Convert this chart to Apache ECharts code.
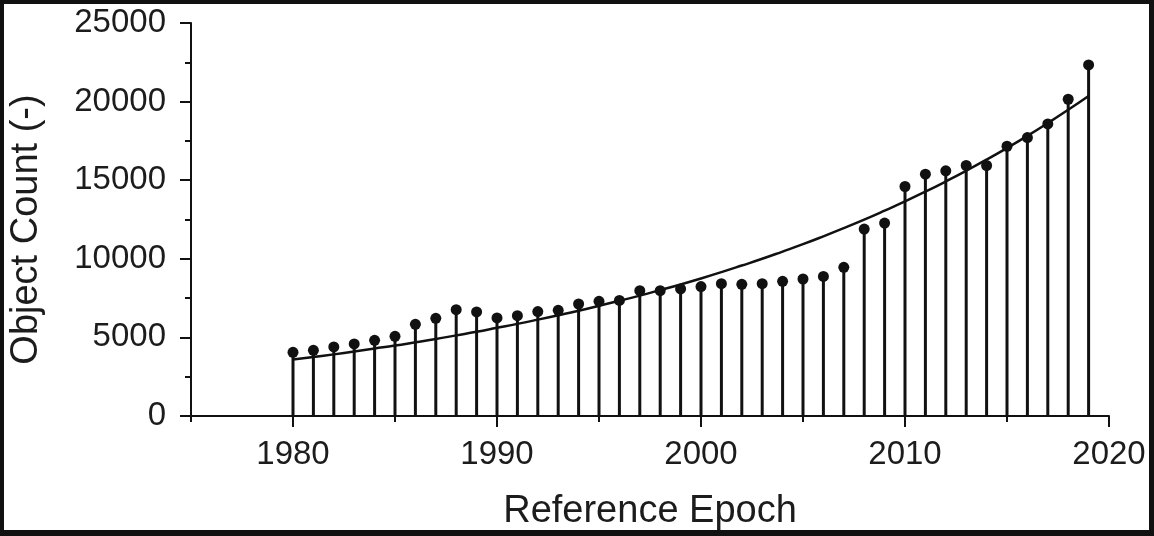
<!DOCTYPE html>
<html>
<head>
<meta charset="utf-8">
<script src="https://cdn.jsdelivr.net/npm/echarts@6/dist/echarts.min.js"></script>
<style>
html,body{margin:0;padding:0;background:#fff;}
#wrap{position:relative;width:1154px;height:536px;}
#chart{position:absolute;left:0;top:0;width:1154px;height:536px;background:#fff;}
#frame{position:absolute;left:0;top:0;width:1154px;height:536px;box-sizing:border-box;
 border-left:4px solid #111;border-top:4px solid #111;border-right:5px solid #111;border-bottom:6px solid #111;pointer-events:none;}
</style>
</head>
<body>
<div id="wrap"><div id="chart"></div><div id="frame"></div></div>
<script>
// Data
const years = [1980,1981,1982,1983,1984,1985,1986,1987,1988,1989,
               1990,1991,1992,1993,1994,1995,1996,1997,1998,1999,
               2000,2001,2002,2003,2004,2005,2006,2007,2008,2009,
               2010,2011,2012,2013,2014,2015,2016,2017,2018,2019];
const objectCount = [4050,4180,4395,4585,4815,5070,5830,6215,6765,6620,
                     6240,6385,6640,6720,7125,7295,7355,7975,7975,8080,
                     8230,8415,8375,8415,8565,8715,8880,9455,11890,12270,
                     14600,15385,15595,15935,15935,17160,17715,18580,20150,22330];
const fitCurve = [3590,3750,3920,4100,4290,4480,4690,4900,5130,5360,
                  5610,5860,6130,6410,6700,7010,7330,7660,8010,8370,
                  8750,9150,9570,10000,10460,10930,11430,11950,12490,13060,
                  13650,14270,14920,15600,16310,17050,17820,18630,19480,20360];
const xMajorTicks = [1980,1990,2000,2010,2020];
const xMinorTicks = [1975,1985,1995,2005,2015];
const xTitle = 'Reference Epoch';
const yTitle = 'Object Count (-)';

const ink = '#111';
const txt = '#1c1c1c';
const font = "'Liberation Sans', Arial, sans-serif";

const stems = years.map((y,i)=>[y, objectCount[i]]);
const fit = years.map((y,i)=>[y, fitCurve[i]]);
const plain = v => String(v);

const chart = echarts.init(document.getElementById('chart'), null, {renderer:'canvas'});
chart.setOption({
  animation:false,
  backgroundColor:'#fff',
  grid:{left:187, right:45, top:23, bottom:119.5, containLabel:false},
  xAxis:[{
    type:'value', min:1975, max:2020, interval:5, position:'bottom',
    name:xTitle, nameLocation:'middle', nameGap:77,
    nameTextStyle:{fontFamily:font, fontSize:38, color:txt},
    axisLine:{show:true, onZero:false, lineStyle:{color:ink, width:2}},
    axisTick:{show:true, inside:false, length:11, customValues:xMajorTicks, lineStyle:{color:ink, width:2}},
    axisLabel:{show:true, margin:22, customValues:xMajorTicks, formatter:plain, fontFamily:font, fontSize:33, color:txt},
    splitLine:{show:false}
  },{
    type:'value', min:1975, max:2020, interval:5, position:'bottom',
    axisLine:{show:false},
    axisTick:{show:true, inside:false, length:6, customValues:xMinorTicks, lineStyle:{color:ink, width:2}},
    axisLabel:{show:false},
    splitLine:{show:false}
  }],
  yAxis:{
    type:'value', min:0, max:25000, interval:5000,
    name:yTitle, nameLocation:'middle', nameGap:145, nameRotate:90,
    nameTextStyle:{fontFamily:font, fontSize:38, color:txt, padding:[0,20,0,0]},
    axisLine:{show:true, onZero:false, lineStyle:{color:ink, width:2}},
    axisTick:{show:true, inside:false, length:11, lineStyle:{color:ink, width:2}},
    minorTick:{show:true, splitNumber:2, length:6, lineStyle:{color:ink, width:2}},
    axisLabel:{margin:25, formatter:plain, fontFamily:font, fontSize:33, color:txt},
    splitLine:{show:false}, minorSplitLine:{show:false}
  },
  series:[
    {type:'bar', xAxisIndex:0, data:stems, barWidth:3, itemStyle:{color:ink}, z:2},
    {type:'line', xAxisIndex:0, data:fit, smooth:true, showSymbol:false, symbol:'none',
     lineStyle:{color:ink, width:2.5}, z:3},
    {type:'scatter', xAxisIndex:0, data:stems, symbol:'circle', symbolSize:11, itemStyle:{color:ink, opacity:1}, z:4}
  ]
});
</script>
</body>
</html>
